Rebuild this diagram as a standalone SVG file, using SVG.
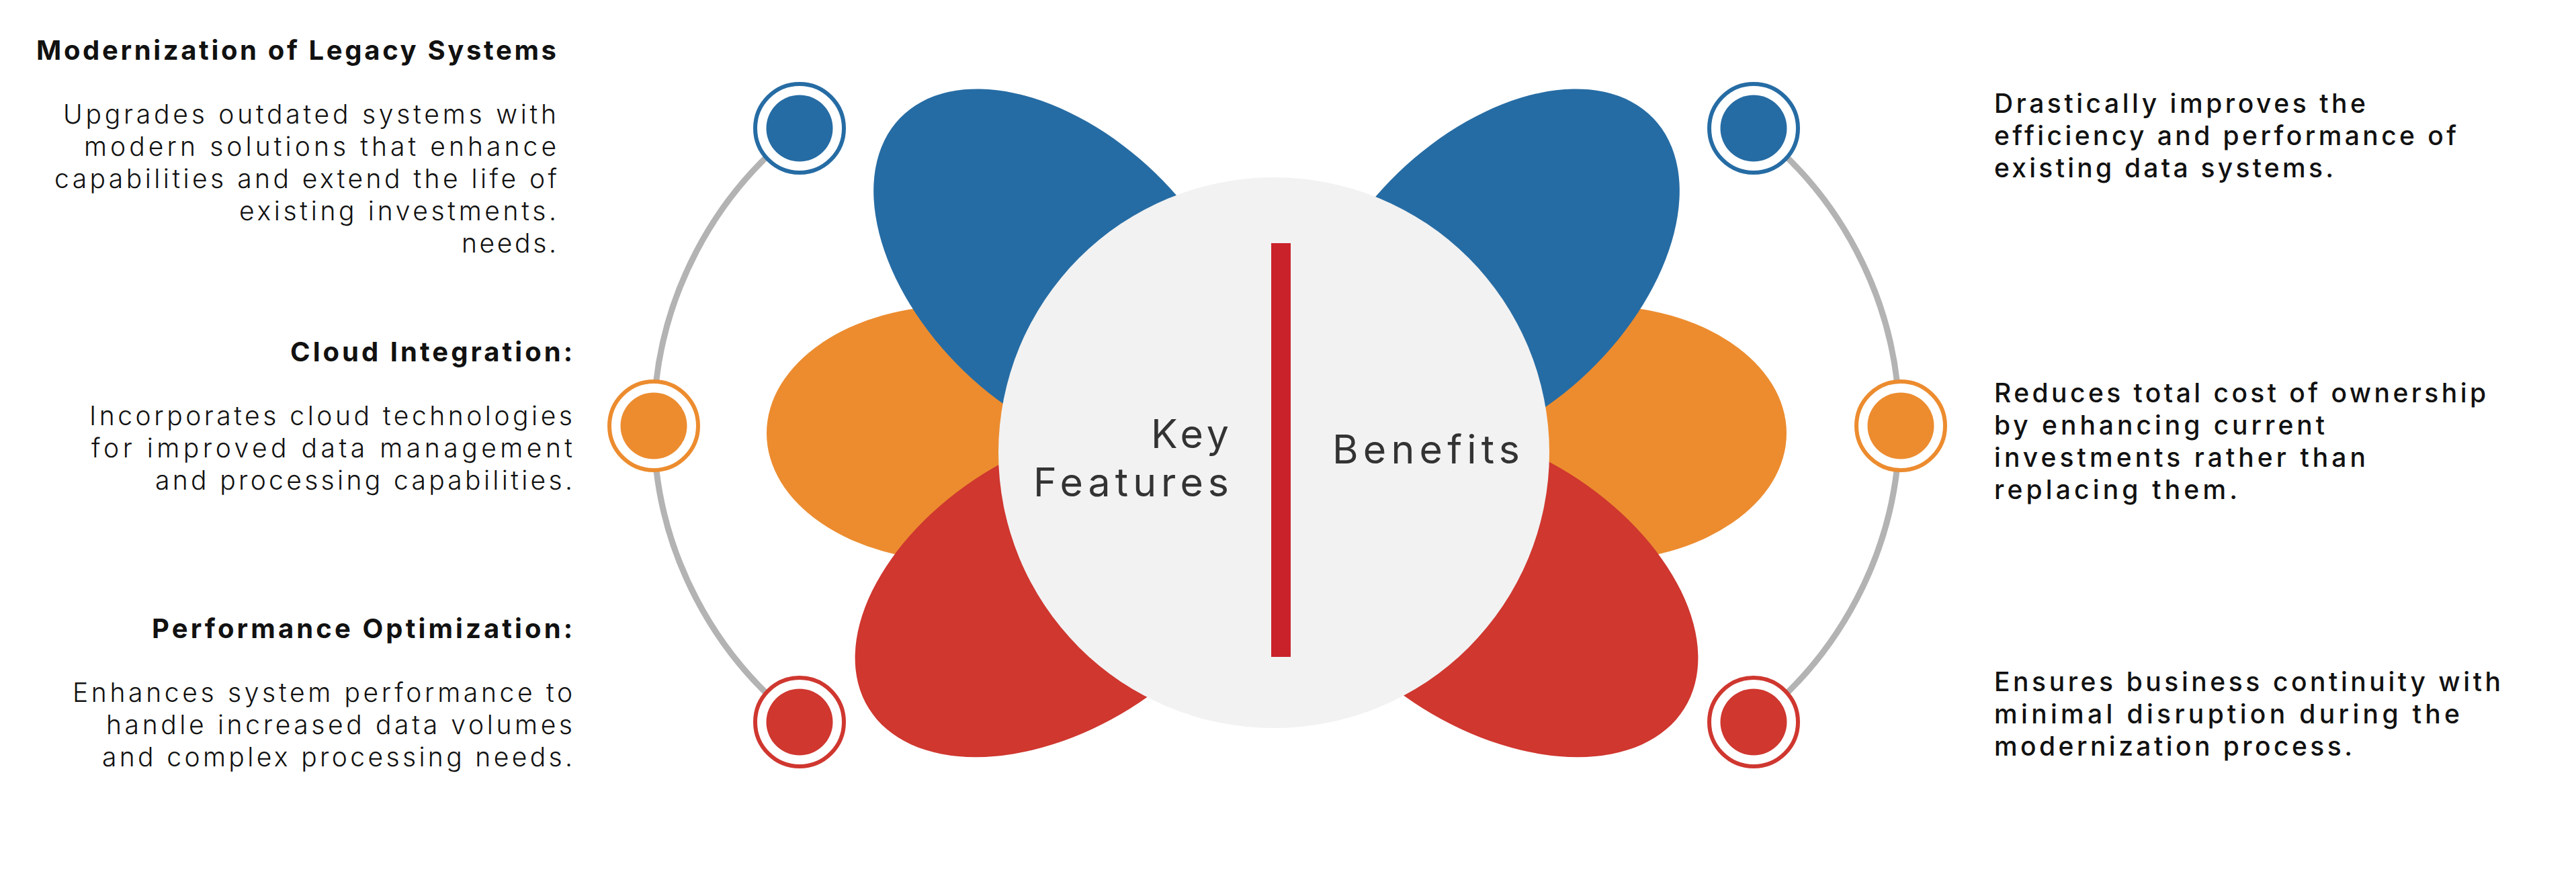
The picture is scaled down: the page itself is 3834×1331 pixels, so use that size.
<svg xmlns="http://www.w3.org/2000/svg" width="3834" height="1331" viewBox="0 0 3834 1331">
<style>
.arc{fill:none;stroke:#b3b3b3;stroke-width:9}
.blue{fill:#266ca4}
.orange{fill:#ec8c2f}
.red{fill:#cf372f}
.ring{fill:#ffffff;stroke-width:6}
.rb-blue{stroke:#266ca4}
.rb-orange{stroke:#ec8c2f}
.rb-red{stroke:#cf372f}
text{font-family:Inter,"Noto Sans","Liberation Sans",sans-serif}
.hd{font-weight:700;font-size:40px;fill:#111111;text-anchor:end}
.lb{font-weight:300;font-size:39px;fill:#111111;text-anchor:end}
.rt{font-weight:500;font-size:39px;fill:#111111}
.ct{font-weight:400;font-size:59px;fill:#333333}
</style>
<rect x="0" y="0" width="3834" height="1331" fill="#ffffff"/>

<g id="connectors">
  <path class="arc" d="M1190,191 A558.6,558.6 0 0 0 1190,1075"/>
  <path class="arc" d="M2610,191 A558.6,558.6 0 0 1 2610,1075"/>
</g>

<g id="petals">
  <ellipse class="orange" cx="1421" cy="645" rx="280" ry="190"/>
  <ellipse class="orange" cx="2379" cy="645" rx="280" ry="190"/>
  <ellipse class="blue" cx="1577" cy="405" rx="330" ry="205" transform="rotate(44 1577 405)"/>
  <ellipse class="blue" cx="2223" cy="405" rx="330" ry="205" transform="rotate(-44 2223 405)"/>
  <ellipse class="red" cx="1573" cy="880" rx="330" ry="206" transform="rotate(-32 1573 880)"/>
  <ellipse class="red" cx="2227" cy="880" rx="330" ry="206" transform="rotate(32 2227 880)"/>
</g>

<g id="center">
  <circle cx="1896" cy="674" r="410" fill="#f2f2f2"/>
  <rect x="1892" y="362" width="29" height="616" fill="#c9222a"/>
  <text class="ct" x="1829" y="667" text-anchor="end" textLength="116" lengthAdjust="spacing">Key</text>
  <text class="ct" x="1829" y="739" text-anchor="end" textLength="291" lengthAdjust="spacing">Features</text>
  <text class="ct" x="1983" y="690" textLength="279" lengthAdjust="spacing">Benefits</text>
</g>

<g id="feature-1">
  <circle class="ring rb-blue" cx="1190" cy="191" r="66"/>
  <circle class="blue" cx="1190" cy="191" r="49.5"/>
  <text class="hd" x="828" y="89" textLength="774" lengthAdjust="spacing">Modernization of Legacy Systems</text>
  <text class="lb" x="828" y="184" textLength="734" lengthAdjust="spacing">Upgrades outdated systems with</text>
  <text class="lb" x="828" y="232" textLength="703" lengthAdjust="spacing">modern solutions that enhance</text>
  <text class="lb" x="829" y="280" textLength="748" lengthAdjust="spacing">capabilities and extend the life of</text>
  <text class="lb" x="828" y="328" textLength="472" lengthAdjust="spacing">existing investments.</text>
  <text class="lb" x="828" y="376" textLength="141" lengthAdjust="spacing">needs.</text>
</g>

<g id="feature-2">
  <circle class="ring rb-orange" cx="973" cy="634" r="66"/>
  <circle class="orange" cx="973" cy="634" r="49.5"/>
  <text class="hd" x="852" y="538" textLength="420" lengthAdjust="spacing">Cloud Integration:</text>
  <text class="lb" x="852" y="633" textLength="719" lengthAdjust="spacing">Incorporates cloud technologies</text>
  <text class="lb" x="852" y="681" textLength="716" lengthAdjust="spacing">for improved data management</text>
  <text class="lb" x="852" y="729" textLength="621" lengthAdjust="spacing">and processing capabilities.</text>
</g>

<g id="feature-3">
  <circle class="ring rb-red" cx="1190" cy="1075" r="66"/>
  <circle class="red" cx="1190" cy="1075" r="49.5"/>
  <text class="hd" x="852" y="950" textLength="626" lengthAdjust="spacing">Performance Optimization:</text>
  <text class="lb" x="852" y="1045" textLength="744" lengthAdjust="spacing">Enhances system performance to</text>
  <text class="lb" x="852" y="1093" textLength="694" lengthAdjust="spacing">handle increased data volumes</text>
  <text class="lb" x="852" y="1141" textLength="700" lengthAdjust="spacing">and complex processing needs.</text>
</g>

<g id="benefit-1">
  <circle class="ring rb-blue" cx="2610" cy="191" r="66"/>
  <circle class="blue" cx="2610" cy="191" r="49.5"/>
  <text class="rt" x="2968" y="168" textLength="553" lengthAdjust="spacing">Drastically improves the</text>
  <text class="rt" x="2968" y="216" textLength="688" lengthAdjust="spacing">efficiency and performance of</text>
  <text class="rt" x="2968" y="264" textLength="505" lengthAdjust="spacing">existing data systems.</text>
</g>

<g id="benefit-2">
  <circle class="ring rb-orange" cx="2829" cy="634" r="66"/>
  <circle class="orange" cx="2829" cy="634" r="49.5"/>
  <text class="rt" x="2968" y="599" textLength="732" lengthAdjust="spacing">Reduces total cost of ownership</text>
  <text class="rt" x="2968" y="647" textLength="492" lengthAdjust="spacing">by enhancing current</text>
  <text class="rt" x="2968" y="695" textLength="553" lengthAdjust="spacing">investments rather than</text>
  <text class="rt" x="2968" y="743" textLength="362" lengthAdjust="spacing">replacing them.</text>
</g>

<g id="benefit-3">
  <circle class="ring rb-red" cx="2610" cy="1075" r="66"/>
  <circle class="red" cx="2610" cy="1075" r="49.5"/>
  <text class="rt" x="2968" y="1029" textLength="754" lengthAdjust="spacing">Ensures business continuity with</text>
  <text class="rt" x="2968" y="1077" textLength="693" lengthAdjust="spacing">minimal disruption during the</text>
  <text class="rt" x="2968" y="1125" textLength="533" lengthAdjust="spacing">modernization process.</text>
</g>
</svg>
